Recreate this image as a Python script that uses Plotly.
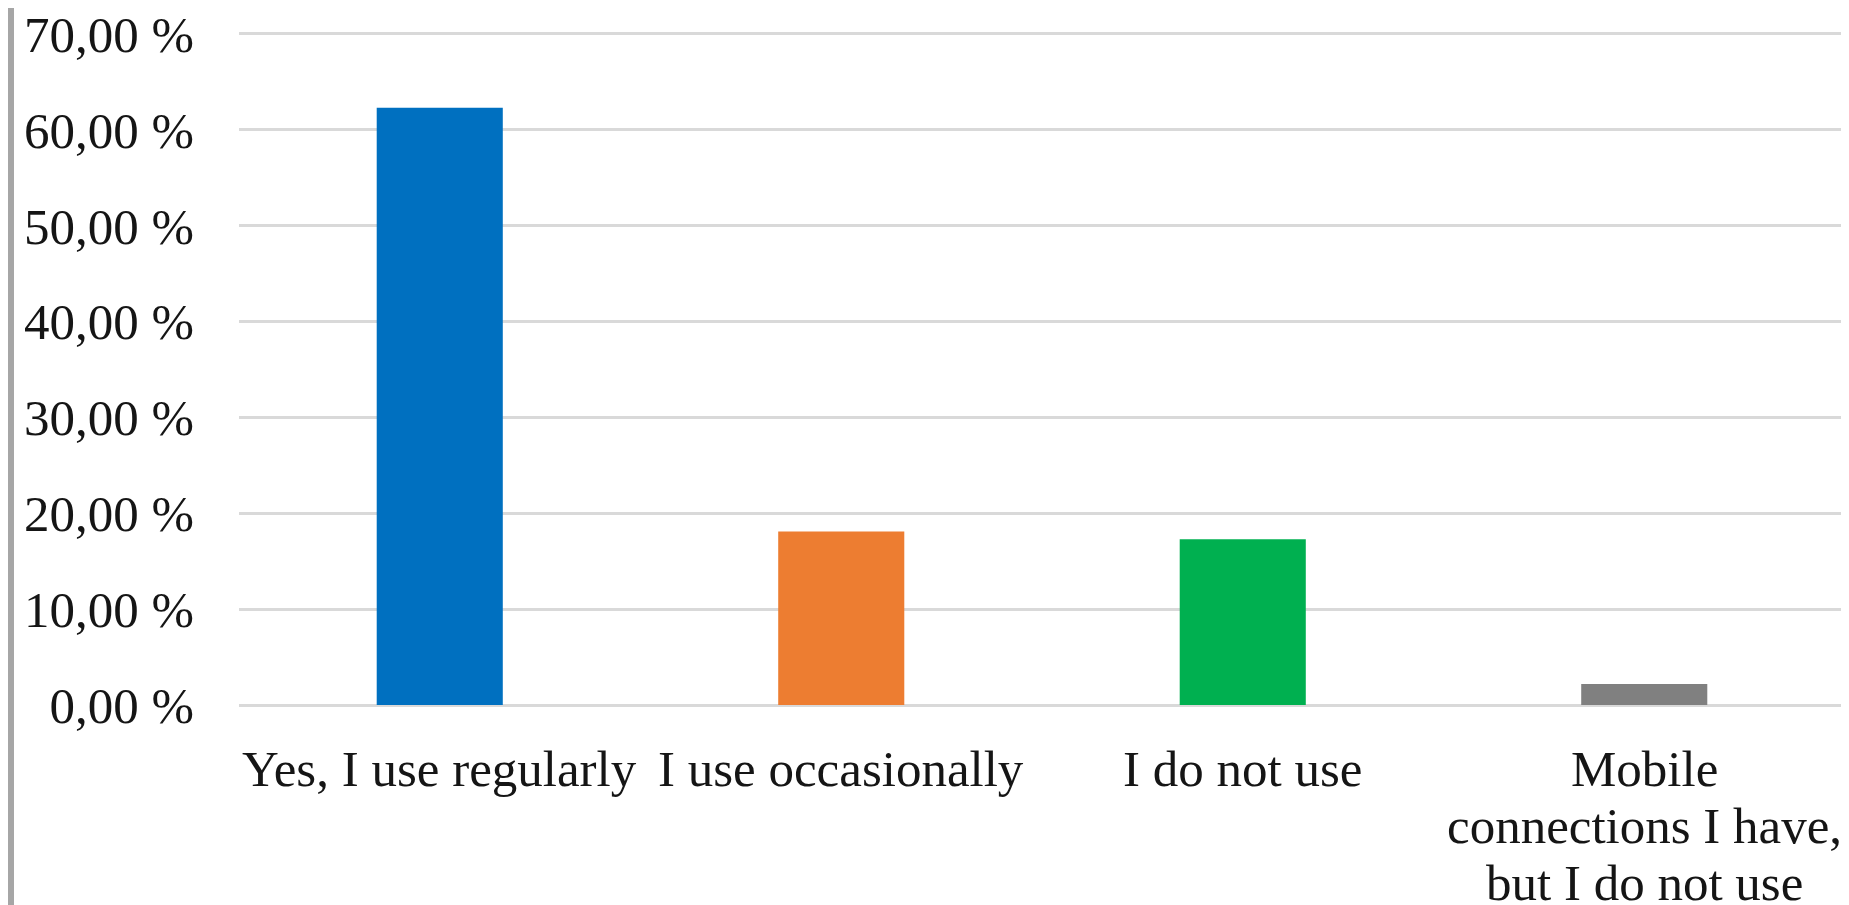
import plotly.graph_objects as go

categories = [
    "Yes, I use regularly",
    "I use occasionally",
    "I do not use",
    "Mobile<br>connections I have,<br>but I do not use",
]
values = [62.3, 18.1, 17.3, 2.2]
bar_colors = ["#0070C0", "#ED7D31", "#00B050", "#808080"]
ytick_vals = [0, 10, 20, 30, 40, 50, 60, 70]
ytick_labels = ["0,00 %", "10,00 %", "20,00 %", "30,00 %", "40,00 %", "50,00 %", "60,00 %", "70,00 %"]

W, H = 1849, 905
ml, mr, mt, mb = 231, 12, 24, 208

FONT_FAMILY = "Liberation Serif, Times New Roman, serif"
font = dict(family=FONT_FAMILY, size=51, color="#151515")

fig = go.Figure(
    go.Bar(
        x=categories,
        y=values,
        marker=dict(color=bar_colors, line=dict(width=0)),
        width=0.314,
        hoverinfo="y",
    )
)

fig.update_layout(
    width=W,
    height=H,
    margin=dict(l=ml, r=mr, t=mt, b=mb, autoexpand=False),
    paper_bgcolor="white",
    plot_bgcolor="white",
    font=font,
    showlegend=False,
    xaxis=dict(
        showgrid=False,
        showline=False,
        zeroline=False,
        ticks="",
        showticklabels=False,
    ),
    yaxis=dict(
        range=[0, 70.2],
        tickvals=ytick_vals,
        ticktext=ytick_labels,
        showgrid=True,
        gridcolor="#D9D9D9",
        gridwidth=3,
        zeroline=True,
        zerolinecolor="#D9D9D9",
        zerolinewidth=3,
        showline=False,
        ticks="",
        ticklabelstandoff=44,
        ticklabeloverflow="allow",
        tickfont=font,
    ),
)

# Category labels (tight line spacing as in the reference)
for cat in categories:
    for i, line in enumerate(cat.split("<br>")):
        fig.add_annotation(
            x=cat,
            y=0,
            xref="x",
            yref="y",
            text=line,
            showarrow=False,
            xanchor="center",
            yanchor="middle",
            yshift=-(64 + i * 57),
            font=font,
        )

plot_w = W - ml - mr
plot_h = H - mt - mb
fig.add_shape(
    type="line",
    xref="paper",
    yref="paper",
    x0=-(ml - 3) / plot_w,
    x1=-(ml - 3) / plot_w,
    y0=-mb / plot_h,
    y1=1 + mt / plot_h,
    line=dict(color="#A6A6A6", width=6),
    layer="above",
)

fig.write_html("out.html")
